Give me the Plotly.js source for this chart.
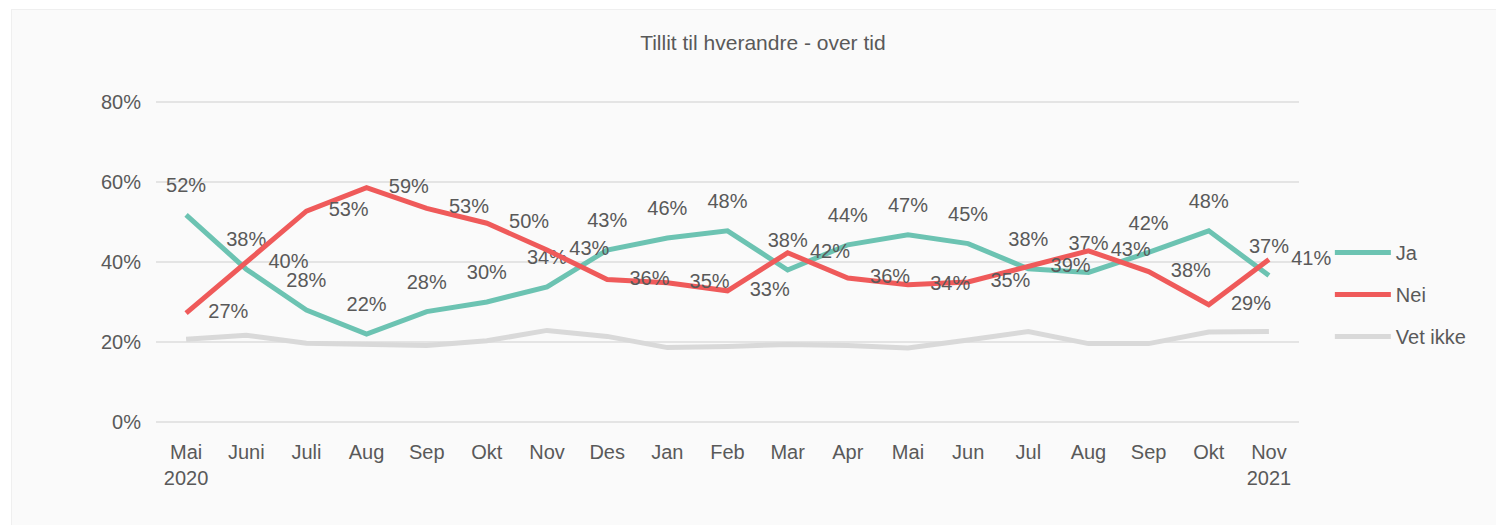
<!DOCTYPE html>
<html>
<head>
<meta charset="utf-8">
<script src="https://cdn.plot.ly/plotly-3.0.1.min.js"></script>
<style>
  html, body { margin: 0; padding: 0; background: #ffffff; }
  #chart { position: absolute; left: 12px; top: 10px; width: 1484px; height: 515px; outline: 1px solid #efefef; }
</style>
</head>
<body>
<div id="chart"></div>
<script>
const periods = ['2020-05','2020-06','2020-07','2020-08','2020-09','2020-10','2020-11','2020-12','2021-01','2021-02','2021-03','2021-04','2021-05','2021-06','2021-07','2021-08','2021-09','2021-10','2021-11'];
const monthLabels = ['Mai<br>2020','Juni','Juli','Aug','Sep','Okt','Nov','Des','Jan','Feb','Mar','Apr','Mai','Jun','Jul','Aug','Sep','Okt','Nov<br>2021'];
const ja = [51.8, 38.2, 28.0, 22.0, 27.6, 30.0, 33.8, 43.0, 46.0, 47.8, 38.0, 44.3, 46.8, 44.6, 38.3, 37.4, 42.4, 47.8, 36.6];
const nei = [27.2, 39.8, 52.7, 58.6, 53.4, 49.7, 43.0, 35.6, 34.8, 32.8, 42.3, 36.0, 34.3, 35.0, 38.8, 42.8, 37.6, 29.3, 40.6];
const vetIkke = [20.7, 21.7, 19.7, 19.5, 19.1, 20.3, 22.9, 21.4, 18.6, 18.9, 19.4, 19.1, 18.5, 20.5, 22.6, 19.6, 19.6, 22.5, 22.6];
const yTicks = [0, 20, 40, 60, 80];
const yTickText = yTicks.map(v => v + '%');

const txt = '#595959';
const fnt = {family: 'Liberation Sans, Arial, sans-serif', size: 20, color: txt};

const traces = [
  {
    name: 'Ja', x: periods, y: ja, type: 'scatter', mode: 'lines+markers+text',
    line: {color: '#6cc3b2', width: 5},
    marker: {size: 27, color: 'rgba(0,0,0,0)'},
    texttemplate: '%{y:.0f}%', textposition: 'top center', textfont: fnt, cliponaxis: false,
    legendgroup: 'a', hoverinfo: 'skip'
  },
  {
    name: 'Nei', x: periods, y: nei, type: 'scatter', mode: 'lines+markers+text',
    line: {color: '#ef5a5a', width: 5},
    marker: {size: 34, color: 'rgba(0,0,0,0)'},
    texttemplate: '%{y:.0f}%', textposition: 'middle right', textfont: fnt, cliponaxis: false,
    legendgroup: 'b', hoverinfo: 'skip'
  },
  {
    name: 'Vet ikke', x: periods, y: vetIkke, type: 'scatter', mode: 'lines',
    line: {color: '#d9d9d9', width: 5},
    legendgroup: 'c', hoverinfo: 'skip'
  }
];

const layout = {
  width: 1484, height: 515,
  paper_bgcolor: '#fafafa', plot_bgcolor: '#fafafa',
  margin: {l: 144, r: 197, t: 90, b: 101},
  font: fnt,
  title: {text: 'Tillit til hverandre - over tid', font: {family: 'Liberation Sans, Arial, sans-serif', size: 21, color: txt},
          x: 0.506, xanchor: 'center', y: 0.936, yanchor: 'middle'},
  xaxis: {type: 'category', range: [-0.5, 18.5], tickvals: periods, ticktext: monthLabels, showgrid: false, zeroline: false,
          showline: false, ticks: '', ticklabelstandoff: 14, tickfont: fnt, fixedrange: true},
  yaxis: {range: [-0.5, 80.5], tickvals: yTicks, ticktext: yTickText, showgrid: true, gridcolor: '#e4e4e4', gridwidth: 1.5,
          zeroline: false, showline: false, ticks: '', ticklabelstandoff: 14, tickfont: fnt, fixedrange: true},
  showlegend: true,
  legend: {x: 1.027, xanchor: 'left', y: 0.40, yanchor: 'middle', font: fnt, tracegroupgap: 13, itemwidth: 56,
           bgcolor: 'rgba(0,0,0,0)', traceorder: 'grouped'}
};

Plotly.newPlot('chart', traces, layout, {displayModeBar: false, staticPlot: true});
</script>
</body>
</html>
